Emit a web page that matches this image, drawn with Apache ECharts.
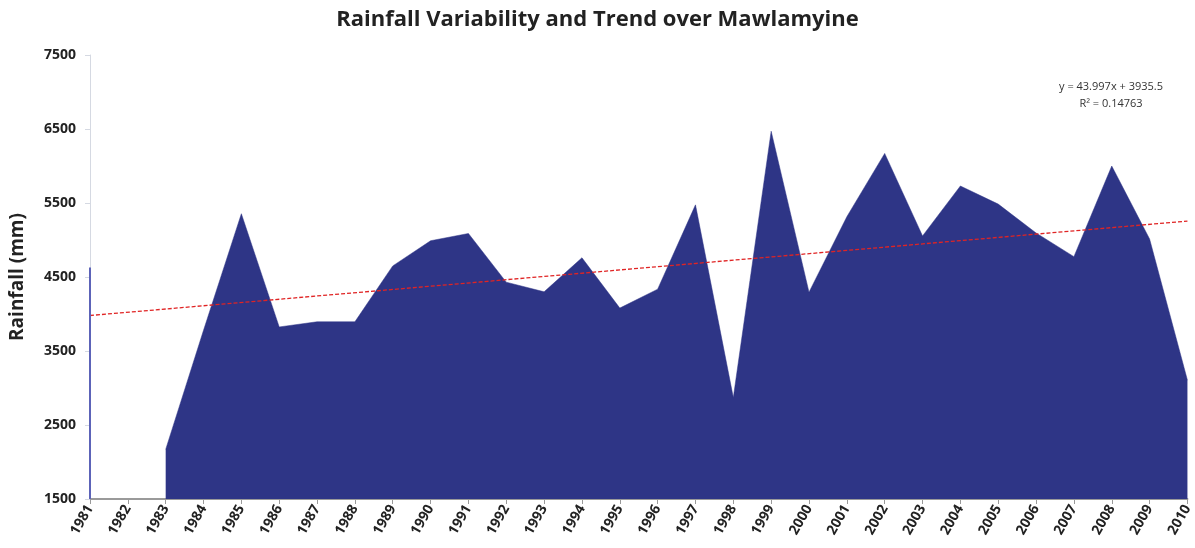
<!DOCTYPE html>
<html>
<head>
<meta charset="utf-8">
<script src="https://cdn.jsdelivr.net/npm/echarts@6/dist/echarts.min.js"></script>
<style>
  html, body { margin: 0; padding: 0; background: #fff; }
  #chart { width: 1195px; height: 548px; }
</style>
</head>
<body>
<div id="chart"></div>
<script>
// years on the x axis
const years = ['1981', '1982', '1983', '1984', '1985', '1986', '1987', '1988', '1989', '1990',
  '1991', '1992', '1993', '1994', '1995', '1996', '1997', '1998', '1999', '2000',
  '2001', '2002', '2003', '2004', '2005', '2006', '2007', '2008', '2009', '2010'];

// annual rainfall (mm), 1982 missing
const rainfall = [4630, null, 2170, 3780, 5355, 3825, 3895, 3895, 4650, 4990,
  5088, 4430, 4300, 4760, 4080, 4335, 5475, 2870, 6470, 4295,
  5315, 6170, 5055, 5730, 5485, 5095, 4775, 6000, 5013, 3105];

// linear trend end points (y = 43.997x + 3935.5)
const trendStart = 3979.5;
const trendEnd = 5255.4;
const trend = years.map((y, i) => i === 0 ? trendStart : (i === years.length - 1 ? trendEnd : null));

const yTicks = [1500, 2500, 3500, 4500, 5500, 6500, 7500];

const chart = echarts.init(document.getElementById('chart'));

chart.setOption({
  animation: false,
  backgroundColor: '#fff',
  title: {
    text: 'Rainfall Variability and Trend over Mawlamyine',
    left: 'center',
    top: 4,
    textStyle: { fontFamily: 'Open Sans', fontWeight: 'bold', fontSize: 22, color: '#222' }
  },
  graphic: [{
    type: 'text',
    x: 1111,
    y: 78,
    style: {
      text: 'y = 43.997x + 3935.5\nR² = 0.14763',
      textAlign: 'center',
      font: '11px "Open Sans"',
      lineHeight: 17,
      fill: '#333'
    }
  }],
  grid: { left: 90, right: 7, top: 55, bottom: 49, containLabel: false },
  xAxis: {
    type: 'category',
    data: years,
    boundaryGap: false,
    axisLine: { lineStyle: { color: '#9a9a9a', width: 2 } },
    axisTick: { show: true, length: 5, alignWithLabel: true, lineStyle: { color: '#9a9a9a' } },
    axisLabel: {
      interval: 0,
      rotate: 60,
      margin: 7,
      fontFamily: 'Open Sans',
      fontWeight: 'bold',
      fontSize: 14,
      color: '#222'
    },
    splitLine: { show: false }
  },
  yAxis: {
    type: 'value',
    min: 1500,
    max: 7500,
    name: 'Rainfall (mm)',
    nameLocation: 'middle',
    nameGap: 63,
    nameTextStyle: { fontFamily: 'Open Sans', fontWeight: 'bold', fontSize: 19, color: '#222' },
    axisLine: { show: true, lineStyle: { color: '#d5d9e2', width: 1 } },
    axisTick: { show: true, length: 5, customValues: yTicks, lineStyle: { color: '#d5d9e2' } },
    axisLabel: {
      customValues: yTicks,
      formatter: v => String(v),
      margin: 14,
      fontFamily: 'Open Sans',
      fontWeight: 'bold',
      fontSize: 14,
      color: '#222'
    },
    splitLine: { show: false }
  },
  series: [
    {
      type: 'line',
      name: 'Rainfall',
      data: rainfall,
      showSymbol: false,
      connectNulls: false,
      lineStyle: { width: 0.5, color: '#2e3586' },
      areaStyle: { color: '#2e3586', opacity: 1, origin: 'start' },
      markLine: {
        silent: true,
        symbol: 'none',
        label: { show: false },
        lineStyle: { color: '#5c63b8', width: 2, type: 'solid' },
        data: [[{ coord: [0, 1500] }, { coord: [0, rainfall[0]] }]]
      },
      z: 2
    },
    {
      type: 'line',
      name: 'Trend',
      data: trend,
      connectNulls: true,
      showSymbol: false,
      lineStyle: { color: '#e02424', width: 1.3, type: [4, 2] },
      z: 3
    }
  ]
});
</script>
</body>
</html>
